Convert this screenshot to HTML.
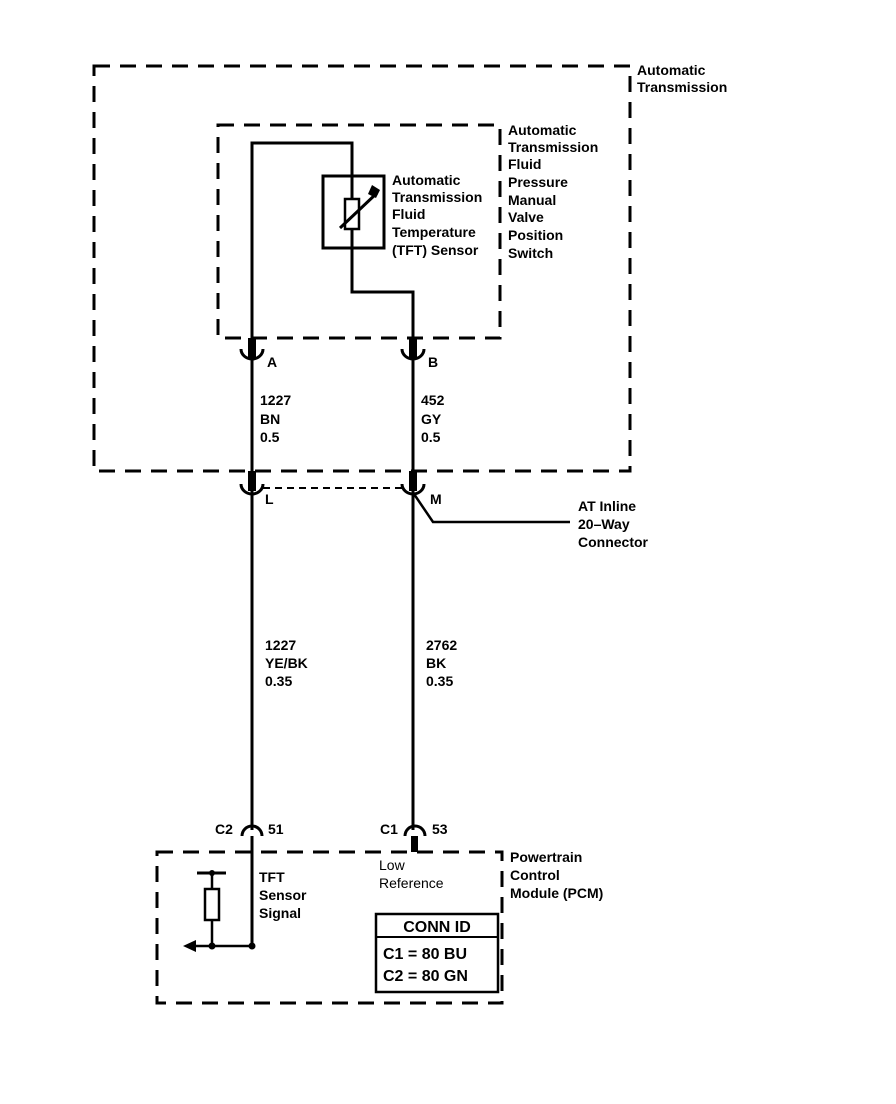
<!DOCTYPE html>
<html><head><meta charset="utf-8"><style>
html,body{margin:0;padding:0;background:#fff}
svg{display:block}
text{font-family:"Liberation Sans",sans-serif;font-size:14px;font-weight:bold;fill:#000}
</style></head><body>
<svg width="896" height="1104" viewBox="0 0 896 1104" xmlns="http://www.w3.org/2000/svg">
<g fill="none" stroke="#000">
<!-- outer dashed box -->
<rect x="94" y="66" width="536" height="405" stroke-width="3" stroke-dasharray="16,10"/>
<!-- inner dashed box -->
<rect x="218" y="125" width="282" height="213" stroke-width="3" stroke-dasharray="16,10"/>
<!-- PCM box -->
<rect x="157" y="852" width="345" height="151" stroke-width="3" stroke-dasharray="16,10"/>
<!-- wires -->
<polyline points="252,338 252,143 352,143 352,292 413,292 413,338" stroke-width="3"/>
<rect x="323" y="176" width="61" height="72" stroke-width="3"/>
<rect x="345" y="199" width="14" height="30" stroke-width="2.5" fill="#fff"/>
<line x1="340" y1="228" x2="377" y2="193" stroke-width="3"/>
<line x1="252" y1="358" x2="252" y2="471" stroke-width="3"/>
<line x1="413" y1="358" x2="413" y2="471" stroke-width="3"/>
<line x1="252" y1="491" x2="252" y2="830" stroke-width="3"/>
<line x1="413" y1="491" x2="413" y2="830" stroke-width="3"/>
<!-- cups -->
<path d="M241,349 A11,10 0 0 0 263,349" stroke-width="3"/>
<path d="M402,349 A11,10 0 0 0 424,349" stroke-width="3"/>
<path d="M241,484 A11,10 0 0 0 263,484" stroke-width="3"/>
<path d="M402,484 A11,10 0 0 0 424,484" stroke-width="3"/>
<line x1="263" y1="488" x2="402" y2="488" stroke-width="2" stroke-dasharray="7,5"/>
<polyline points="414,494 433,522 570,522" stroke-width="2.5"/>
<!-- bottom caps -->
<path d="M242,836 A10,10 0 0 1 262,836" stroke-width="3"/>
<path d="M405,836 A10,10 0 0 1 425,836" stroke-width="3"/>
<line x1="252" y1="836" x2="252" y2="946" stroke-width="3"/>
<line x1="415" y1="836" x2="415" y2="852" stroke-width="3"/>
<!-- PCM internal -->
<line x1="197" y1="873" x2="226" y2="873" stroke-width="3"/>
<line x1="212" y1="873" x2="212" y2="946" stroke-width="2.5"/>
<rect x="205" y="889" width="14" height="31" stroke-width="2.5" fill="#fff"/>
<line x1="192" y1="946" x2="252" y2="946" stroke-width="2.5"/>
<rect x="376" y="914" width="122" height="78" stroke-width="2.5"/>
<line x1="376" y1="937" x2="498" y2="937" stroke-width="2"/>
</g>
<g fill="#000">
<rect x="248" y="338" width="8" height="20"/>
<rect x="409" y="338" width="8" height="20"/>
<rect x="248" y="471" width="8" height="20"/>
<rect x="409" y="471" width="8" height="20"/>
<rect x="411" y="836" width="7" height="16"/>
<polygon points="183,946 196,940 196,952"/>
<polygon points="372,185 380,190 376,198 368,194" />
<circle cx="212" cy="946" r="3.5"/>
<circle cx="252" cy="946" r="3.5"/>
<circle cx="212" cy="873" r="3"/>
</g>
<text x="637" y="75">Automatic</text>
<text x="637" y="92">Transmission</text>
<text x="508" y="135">Automatic</text>
<text x="508" y="152">Transmission</text>
<text x="508" y="169">Fluid</text>
<text x="508" y="187">Pressure</text>
<text x="508" y="205">Manual</text>
<text x="508" y="222">Valve</text>
<text x="508" y="240">Position</text>
<text x="508" y="258">Switch</text>
<text x="392" y="185">Automatic</text>
<text x="392" y="202">Transmission</text>
<text x="392" y="219">Fluid</text>
<text x="392" y="237">Temperature</text>
<text x="392" y="255">(TFT) Sensor</text>
<text x="267" y="367">A</text>
<text x="428" y="367">B</text>
<text x="260" y="405">1227</text>
<text x="260" y="424">BN</text>
<text x="260" y="442">0.5</text>
<text x="421" y="405">452</text>
<text x="421" y="424">GY</text>
<text x="421" y="442">0.5</text>
<text x="265" y="504">L</text>
<text x="430" y="504">M</text>
<text x="578" y="511">AT Inline</text>
<text x="578" y="529">20–Way</text>
<text x="578" y="547">Connector</text>
<text x="265" y="650">1227</text>
<text x="265" y="668">YE/BK</text>
<text x="265" y="686">0.35</text>
<text x="426" y="650">2762</text>
<text x="426" y="668">BK</text>
<text x="426" y="686">0.35</text>
<text x="215" y="834">C2</text>
<text x="268" y="834">51</text>
<text x="380" y="834">C1</text>
<text x="432" y="834">53</text>
<text x="510" y="862">Powertrain</text>
<text x="510" y="880">Control</text>
<text x="510" y="898">Module (PCM)</text>
<text x="259" y="882">TFT</text>
<text x="259" y="900">Sensor</text>
<text x="259" y="918">Signal</text>
<text x="379" y="870" style="font-weight:normal">Low</text>
<text x="379" y="888" style="font-weight:normal">Reference</text>
<text x="437" y="932" text-anchor="middle" style="font-size:16px">CONN ID</text>
<text x="383" y="959" style="font-size:16px">C1 = 80 BU</text>
<text x="383" y="981" style="font-size:16px">C2 = 80 GN</text>
</svg>
</body></html>
